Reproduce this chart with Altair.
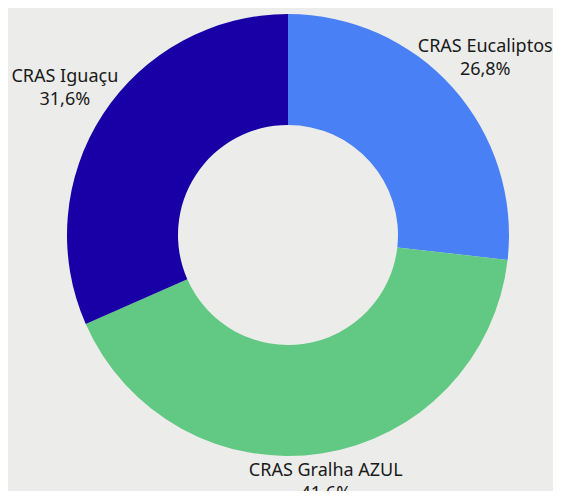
import altair as alt
import pandas as pd

categories = ["CRAS Eucaliptos", "CRAS Gralha AZUL", "CRAS Iguaçu"]
values = [26.8, 41.6, 31.6]
colors = ["#4a80f5", "#61c983", "#1800a6"]

labels = [f"{c}\n{str(v).replace('.', ',')}%" for c, v in zip(categories, values)]
df = pd.DataFrame({"cat": categories, "value": values, "order": list(range(len(values))), "label": labels})

arcs = alt.Chart(df).mark_arc(radius=221, innerRadius=110).encode(
    theta=alt.Theta("value:Q", stack=True),
    order=alt.Order("order:Q"),
    x=alt.value(280),
    y=alt.value(227),
    color=alt.Color("cat:N", scale=alt.Scale(domain=categories, range=colors), legend=None),
)

text = alt.Chart(df).mark_text(
    font="Noto Sans", fontSize=18, color="#1a1a1a", lineBreak="\n", lineHeight=23,
    align="center", baseline="middle", dy=-12
).transform_window(
    cum="sum(value)", sort=[alt.SortField("order")], frame=[None, 0]
).transform_joinaggregate(
    total="sum(value)"
).transform_calculate(
    ang="2*PI*(datum.cum - datum.value/2)/datum.total",
    rad="248 + 22*abs(sin(datum.ang))",
).encode(
    theta=alt.Theta("ang:Q", scale=None),
    radius=alt.Radius("rad:Q", scale=None),
    x=alt.value(280),
    y=alt.value(227),
    text="label:N",
)

chart = alt.layer(arcs, text).properties(
    width=545, height=483, background="#ececea", padding=0,
    autosize=alt.AutoSizeParams(type="none"),
).configure_view(stroke=None)

chart.save("out.html", embed_options={"renderer": "svg", "actions": False})
